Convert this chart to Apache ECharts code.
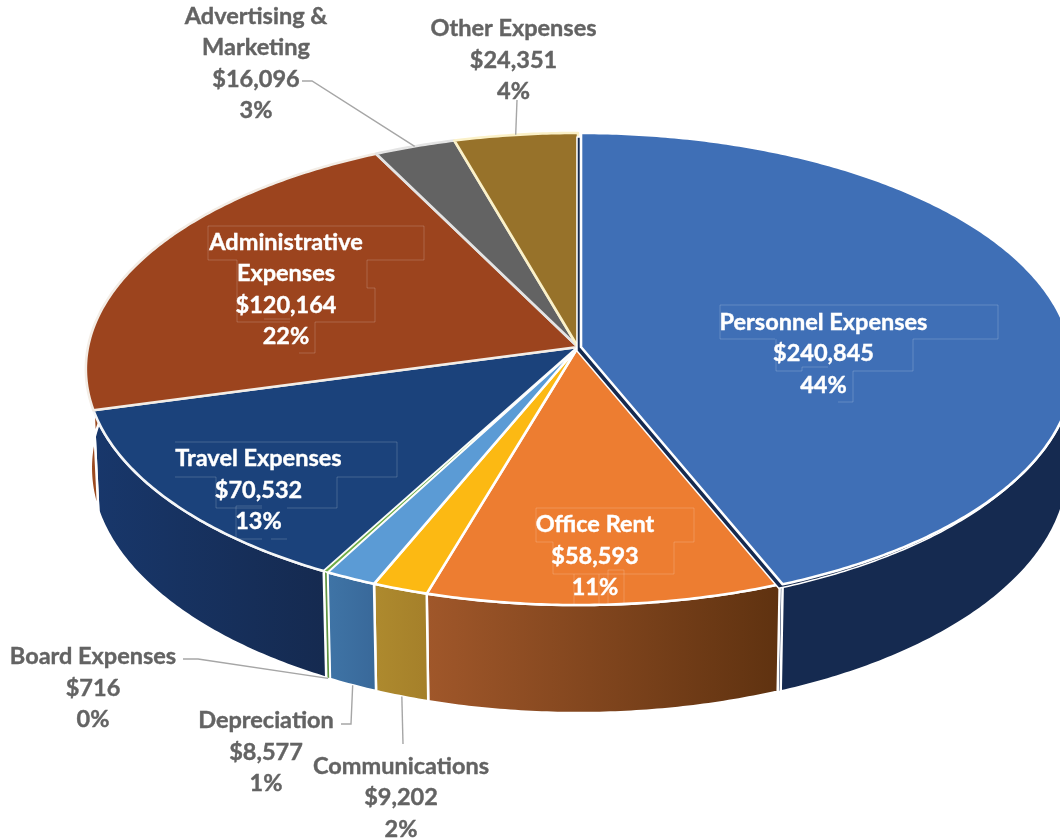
<!DOCTYPE html>
<html>
<head>
<meta charset="utf-8">
<style>
html, body { margin: 0; padding: 0; background: #fff; }
#graph { width: 1060px; height: 839px; }
</style>
<script src="https://cdn.jsdelivr.net/npm/echarts@6/dist/echarts.min.js"></script>
</head>
<body>
<div id="graph"></div>
<script>
// values
var categories = ['Personnel Expenses', 'Office Rent', 'Communications', 'Depreciation', 'Board Expenses',
    'Travel Expenses', 'Administrative\nExpenses', 'Advertising &\nMarketing', 'Other Expenses'];
var expenses = [240845, 58593, 9202, 8577, 716, 70532, 120164, 16096, 24351];
var percentLabels = ['44%', '11%', '2%', '1%', '0%', '13%', '22%', '3%', '4%'];

// colours
var topColors = ['#3f6fb6', '#ed7d31', '#fcb913', '#5b9bd5', '#70ad47', '#1b427b', '#9c441e', '#636363', '#97722a'];
var wallColors = [['#152a50', '#152a50'], ['#a0572a', '#5f3210'], ['#ae8a2e', '#a5802a'], ['#3f74a6', '#39699a'],
    ['#5f9440', '#5f9440'], ['#18376b', '#152a50'], ['#9c4a20', '#8f431c'], ['#555555', '#555555'], ['#7a5c20', '#7a5c20']];
var edgeColors = ['#ffffff', '#ffffff', '#ffffff', '#ffffff', '#ffffff', '#f4f6f8', '#f3ede6', '#e4e4e4', '#fbf1c8'];

// label layout: centre of the text block, text colour
var labelPos = [[823.5, 353.5], [595, 556], [401, 797.5], [266, 752], [93, 688], [258.5, 490], [286, 289.5], [256, 63.5], [513.5, 60]];
var insideLabel = [true, true, false, false, false, true, true, false, false];
// leader line start + elbow, the end is worked out from the slice
var leaders = {
    2: [[403, 744]],
    3: [[341, 724], [351, 724]],
    4: [[183, 659], [198, 659]],
    7: [[302, 81], [312, 81]],
    8: [[517, 100]]
};
// thin frames the text boxes leave in the slices
var boxLines = [
    [[775, 339], [720, 339], [720, 305], [998, 305], [998, 339], [913, 339], [913, 371], [853, 371], [853, 402], [838, 402]],
    [[776, 339], [776, 371], [802, 371]], [[802, 371], [802, 367], [828, 367]],
    [[237, 322], [237, 260], [208, 260], [208, 226], [424, 226], [424, 260], [367, 260], [367, 288], [375, 288], [375, 322], [315, 322], [315, 353], [299, 353]],
    [[237, 322], [290, 322]], [[264, 319], [290, 319]],
    [[216, 477], [175, 477]], [[175, 442], [397, 442], [397, 477], [337, 477], [337, 508], [287, 508]],
    [[216, 477], [216, 508], [262, 508]], [[236, 538], [236, 506], [262, 506]], [[236, 539], [262, 539]], [[271, 539], [287, 539]],
    [[553, 574], [553, 542], [536, 542], [536, 508], [694, 508], [694, 542], [674, 542], [674, 574], [553, 574]],
    [[574, 574], [574, 605]], [[599, 574], [599, 605]], [[608, 605], [608, 570], [624, 570], [624, 605]]
];

// pie geometry
var cx = 578, cy = 347, radiusX = 490, radiusY = 234, tilt = 0.0932, thickness = 98, bottomShrink = 0.99;
var sliceShift = [3, 0, 0, 0, 0, 0, 0, 0, 0];

var total = expenses.reduce(function (a, b) { return a + b; }, 0);
var starts = [];
expenses.reduce(function (sum, v, i) { starts[i] = sum; return sum + v; }, 0);

function toAngle(v) {
    return echarts.number.linearMap(v, [0, total], [0, Math.PI * 2]);
}

// angle clockwise from the top, seen through the perspective of the tilted disc
function rimPoint(angle, down, shift) {
    var x = Math.sin(angle), y = -Math.cos(angle);
    var w = 1 - tilt * y;
    var px = radiusX * x / w;
    if (down) { px = px * bottomShrink; }
    return [cx + px + (shift || 0), cy + radiusY * y / w + (down ? thickness / w : 0)];
}

function arcPoints(i, down) {
    var a0 = toAngle(starts[i]), a1 = toAngle(starts[i] + expenses[i]);
    var steps = Math.max(2, Math.ceil((a1 - a0) / 0.01));
    var pts = [];
    for (var s = 0; s <= steps; s++) {
        pts.push(rimPoint(a0 + (a1 - a0) * s / steps, down, sliceShift[i]));
    }
    return pts;
}

function wallItem(params) {
    var i = params.dataIndex;
    var topArc = arcPoints(i, false), lowArc = arcPoints(i, true);
    var xs = topArc.map(function (p) { return p[0]; });
    var children = [];
    if (sliceShift[i]) {
        // side of the pulled out slice, seen in the gap
        var endAngle = toAngle(starts[i] + expenses[i]);
        var t = rimPoint(endAngle, false, sliceShift[i]), b = rimPoint(endAngle, true, sliceShift[i]);
        children.push({
            type: 'polygon',
            shape: { points: [[t[0] - 3, t[1]], t, b, [b[0] - 3, b[1]]] },
            style: { fill: wallColors[i][0], stroke: '#ffffff', lineWidth: 1.5 }
        });
    }
    children.push({
        type: 'polygon',
        shape: { points: topArc.concat(lowArc.reverse()) },
        style: {
            fill: new echarts.graphic.LinearGradient(Math.min.apply(null, xs), 0, Math.max.apply(null, xs), 0, [
                { offset: 0, color: wallColors[i][0] },
                { offset: 1, color: wallColors[i][1] }
            ], true),
            stroke: '#ffffff',
            lineWidth: i === 4 ? 1.5 : 2.5
        }
    });
    return { type: 'group', children: children };
}

function topItem(params) {
    var i = params.dataIndex;
    var apex = [cx + sliceShift[i], cy];
    var pts = [apex].concat(arcPoints(i, false));
    var children = [];
    if (sliceShift[i]) {
        // the pulled out slice shows a strip of its dark side
        children.push({
            type: 'polygon',
            shape: { points: pts.map(function (p) { return [p[0] - 4, p[1] + 4]; }) },
            style: { fill: wallColors[i][0], stroke: '#ffffff', lineWidth: 1.5, lineJoin: 'round' }
        });
    }
    children.push({
        type: 'polygon',
        shape: { points: pts },
        style: { fill: topColors[i], stroke: edgeColors[i], lineWidth: i === 4 ? 1.2 : 2.6, lineJoin: 'round' }
    });
    return { type: 'group', children: children };
}

function labelItem(params, api) {
    var i = params.dataIndex;
    var children = [];
    var color = insideLabel[i] ? '#ffffff' : '#636363';
    if (leaders[i]) {
        var mid = toAngle(starts[i] + expenses[i] / 2);
        var low = Math.cos(mid) < 0;
        children.push({
            type: 'polyline',
            shape: { points: leaders[i].concat([rimPoint(mid, low, 0)]) },
            style: { stroke: '#a6a6a6', lineWidth: 1.4, fill: null }
        });
    }
    children.push({
        type: 'text',
        style: {
            x: labelPos[i][0],
            y: labelPos[i][1],
            text: categories[i] + '\n$' + echarts.format.addCommas(api.value(0)) + '\n' + percentLabels[i],
            align: 'center',
            verticalAlign: 'middle',
            fill: color,
            stroke: color,
            lineWidth: 0.4,
            font: 'bold 23.5px Lato',
            lineHeight: 31.5
        }
    });
    return { type: 'group', children: children };
}

var seriesData = expenses.map(function (v, i) { return { name: categories[i], value: [v] }; });

// tops drawn with the pulled out slice and the thin board slice last
var topOrder = [1, 2, 3, 5, 6, 7, 8, 4, 0];

var myChart = echarts.init(document.getElementById('graph'));
var option = {
    animation: false,
    backgroundColor: '#ffffff',
    series: [
        { type: 'custom', coordinateSystem: 'none', silent: true, z: 1, data: seriesData, renderItem: wallItem },
        {
            type: 'custom', coordinateSystem: 'none', silent: true, z: 2,
            data: topOrder.map(function (i) { return seriesData[i]; }),
            renderItem: function (params, api) {
                return topItem({ dataIndex: topOrder[params.dataIndex] }, api);
            }
        },
        {
            type: 'custom', coordinateSystem: 'none', silent: true, z: 3, data: [0],
            renderItem: function () {
                return {
                    type: 'group',
                    children: boxLines.map(function (pts) {
                        return { type: 'polyline', shape: { points: pts }, style: { stroke: 'rgba(255,255,255,0.18)', lineWidth: 1, fill: null } };
                    })
                };
            }
        },
        { type: 'custom', coordinateSystem: 'none', silent: true, z: 4, data: seriesData, renderItem: labelItem }
    ]
};
myChart.setOption(option);
</script>
</body>
</html>
